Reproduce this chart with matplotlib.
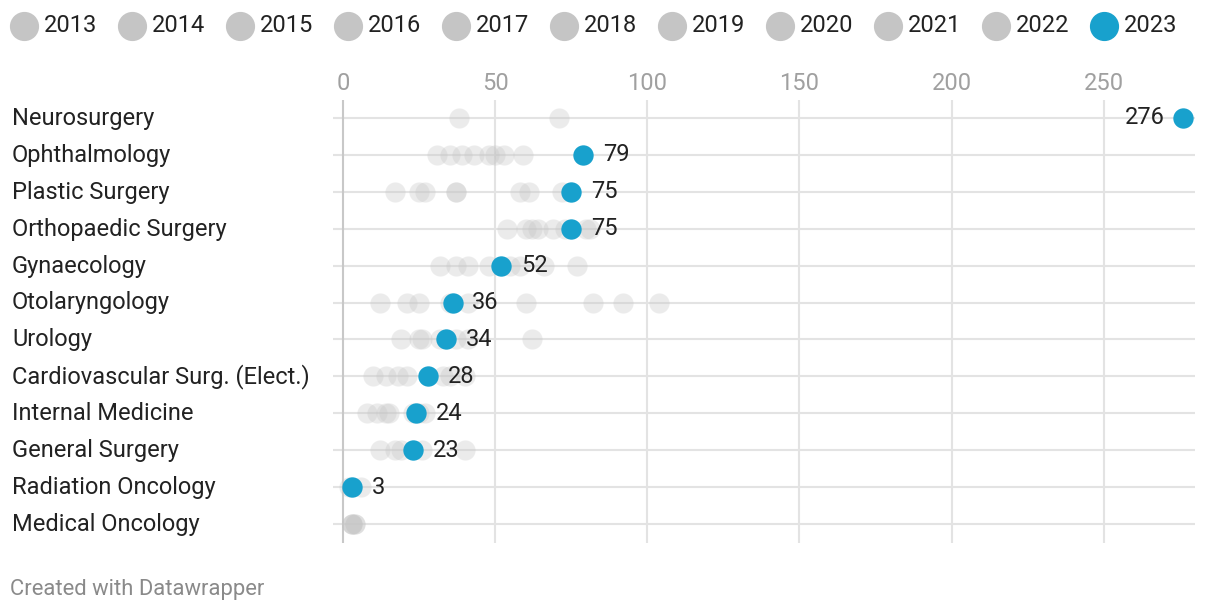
import matplotlib.pyplot as plt
from matplotlib.lines import Line2D

plt.rcParams['font.family'] = ['Roboto', 'DejaVu Sans']

specialties = ['Neurosurgery', 'Ophthalmology', 'Plastic Surgery', 'Orthopaedic Surgery',
               'Gynaecology', 'Otolaryngology', 'Urology', 'Cardiovascular Surg. (Elect.)',
               'Internal Medicine', 'General Surgery', 'Radiation Oncology', 'Medical Oncology']

years = ['2013', '2014', '2015', '2016', '2017', '2018', '2019', '2020', '2021', '2022', '2023']

# earlier years (2013-2022)
past_values = [
    [38, 71],
    [31, 35, 39, 43, 48, 50, 53, 59],
    [17, 25, 27, 37, 37, 58, 61, 72],
    [54, 60, 62, 64, 69, 73, 80, 81],
    [32, 37, 41, 48, 55, 58, 66, 77],
    [12, 21, 25, 35, 41, 60, 82, 92, 104],
    [19, 25, 26, 32, 37, 41, 62],
    [10, 14, 18, 21, 33, 35, 40],
    [8, 11, 14, 15, 23, 25, 27],
    [12, 17, 19, 26, 40],
    [2, 6],
    [3, 3, 4, 3, 4],
]

values_2023 = [276, 79, 75, 75, 52, 36, 34, 28, 24, 23, 3, None]

blue = '#18a1cd'
grey = '#c5c5c5'

fig = plt.figure(figsize=(12.2, 6.14), dpi=100)
ax = fig.add_axes([333 / 1220, 1 - 542.5 / 614, 862 / 1220, 443 / 614])

for i, vals in enumerate(past_values):
    ax.scatter(vals, [i] * len(vals), s=210, color=grey, alpha=0.33, linewidths=0, zorder=3)

for i, v in enumerate(values_2023):
    if v is None:
        continue
    ax.scatter([v], [i], s=215, color=blue, linewidths=0, zorder=4)
    if v > 200:
        ax.annotate(str(v), (v, i), xytext=(-13, 0), textcoords='offset points',
                    ha='right', va='center', fontsize=17, color='#222222')
    else:
        ax.annotate(str(v), (v, i), xytext=(14, 0), textcoords='offset points',
                    ha='left', va='center', fontsize=17, color='#222222')

ax.set_xlim(-3.3, 280)
ax.set_ylim(len(specialties) - 0.5, -0.5)
ax.set_xticks([0, 50, 100, 150, 200, 250])
ax.xaxis.tick_top()
ax.tick_params(axis='x', length=0, labelsize=17, labelcolor='#a0a0a0', pad=3)
ax.set_yticks([])
for i in range(len(specialties)):
    ax.axhline(i, color='#e3e3e3', lw=1.5, zorder=1)
    fig.text(12 / 1220, 1 - (118.5 + i * 36.9) / 614, specialties[i], ha='left', va='center',
             fontsize=17, color='#222222')
for t in [50, 100, 150, 200, 250]:
    ax.axvline(t, color='#e3e3e3', lw=1.5, zorder=1)
ax.axvline(0, color='#c8c8c8', lw=1.5, zorder=2)
for s in ax.spines.values():
    s.set_visible(False)

# legend along the top
for k, y in enumerate(years):
    cx = (24 + k * 108) / 1220
    c = blue if y == '2023' else grey
    fig.add_artist(Line2D([cx], [1 - 26 / 614], marker='o', markersize=20, color=c,
                          linestyle='', transform=fig.transFigure))
    fig.text(cx + 20 / 1220, 1 - 26 / 614, y, ha='left', va='center', fontsize=17,
             color='#222222')

fig.text(10 / 1220, 1 - 590 / 614, 'Created with Datawrapper', ha='left', va='center',
         fontsize=15.8, color='#8a8a8a')

plt.savefig('out.png')
plt.close()
